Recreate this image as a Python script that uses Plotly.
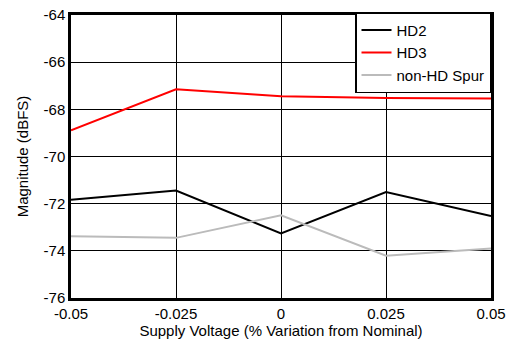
import plotly.graph_objects as go

# Supply voltage variation (% from nominal)
supply_variation = [-0.05, -0.025, 0, 0.025, 0.05]

# Magnitudes in dBFS
hd2 = [-71.83, -71.44, -73.26, -71.51, -72.52]
hd3 = [-68.89, -67.15, -67.44, -67.52, -67.54]
non_hd_spur = [-73.38, -73.45, -72.49, -74.21, -73.90]

x_ticks = [-0.05, -0.025, 0, 0.025, 0.05]
x_tick_text = ["-0.05", "-0.025", "0", "0.025", "0.05"]
y_ticks = [-76, -74, -72, -70, -68, -66, -64]
y_tick_text = ["-76", "-74", "-72", "-70", "-68", "-66", "-64"]

fig = go.Figure()
fig.add_trace(go.Scatter(x=supply_variation, y=hd2, name="HD2", mode="lines",
                         line=dict(color="black", width=2)))
fig.add_trace(go.Scatter(x=supply_variation, y=hd3, name="HD3", mode="lines",
                         line=dict(color="#ff0000", width=2)))
fig.add_trace(go.Scatter(x=supply_variation, y=non_hd_spur, name="non-HD Spur", mode="lines",
                         line=dict(color="#bbbbbb", width=2)))

axis_style = dict(
    showline=True, linecolor="black", linewidth=2.5, mirror=True,
    showgrid=True, gridcolor="black", gridwidth=1,
    zeroline=False, ticks="", automargin=False,
    tickfont=dict(size=15, color="black"),
)

fig.update_xaxes(
    range=[-0.05, 0.05], tickvals=x_ticks, ticktext=x_tick_text,
    title=dict(text="Supply Voltage (% Variation from Nominal)", font=dict(size=15, color="black"), standoff=2),
    **axis_style,
)
fig.update_yaxes(
    range=[-76, -64], tickvals=y_ticks, ticktext=y_tick_text,
    title=dict(text="Magnitude (dBFS)", font=dict(size=15, color="black"), standoff=12),
    **axis_style,
)

fig.update_layout(
    width=509, height=343,
    margin=dict(l=71, r=18, t=13, b=45),
    plot_bgcolor="white", paper_bgcolor="white",
    font=dict(family="Liberation Sans, Arial, sans-serif", size=15, color="black"),
    legend=dict(
        x=1, y=1.01, xanchor="right", yanchor="top",
        bgcolor="white", bordercolor="black", borderwidth=1.5,
        font=dict(size=15), tracegroupgap=0, itemwidth=30,
    ),
)

# drop the default page margin so the figure sits at the window's corner
fig.write_html("out.html", config={"displayModeBar": False},
               post_script="document.body.style.margin='0';")
